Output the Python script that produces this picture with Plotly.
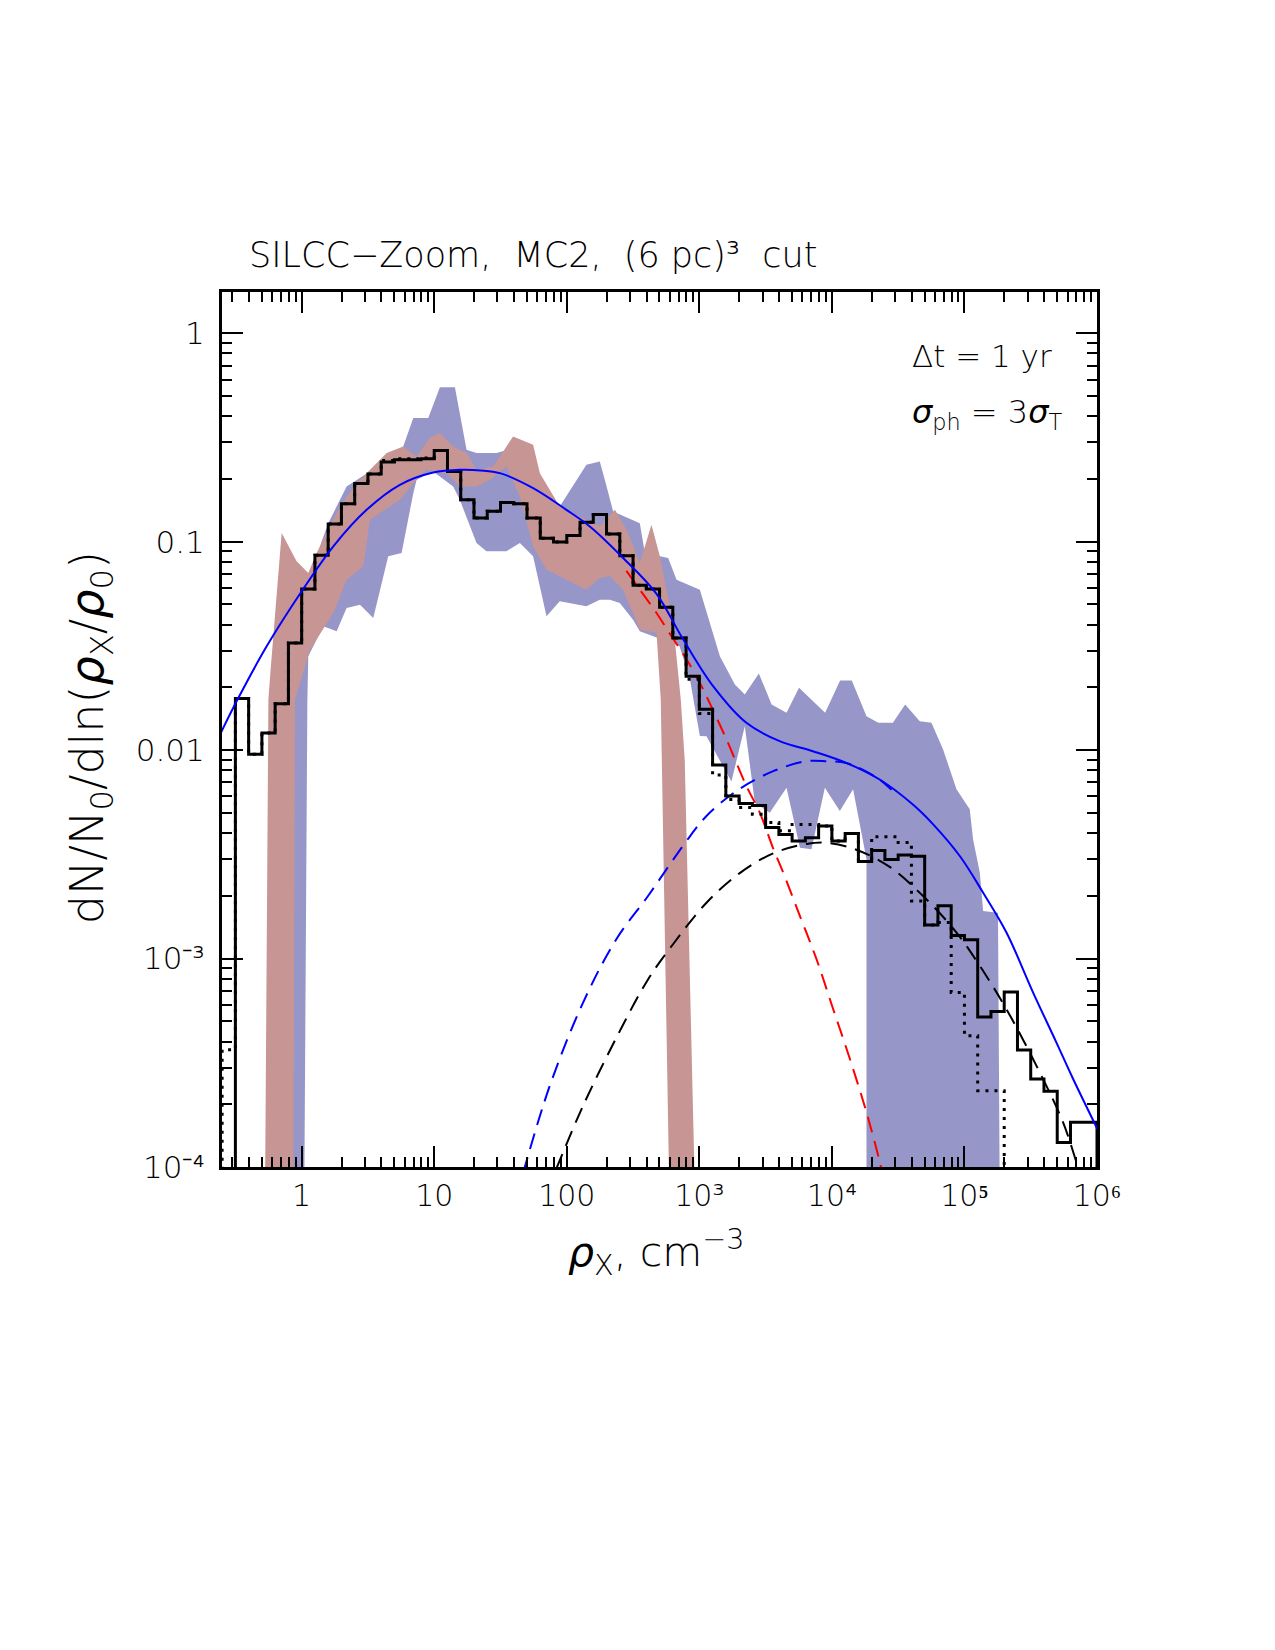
import numpy as np
import plotly.graph_objects as go

# ---------------- data (log10 density bin edges, histogram values) ----------------
hist_log_edges = [-0.5, -0.4, -0.3, -0.2, -0.1, 0.0, 0.1, 0.2, 0.3, 0.4, 0.5, 0.6, 0.7, 0.8, 0.9,
                  1.0, 1.1, 1.2, 1.3, 1.4, 1.5, 1.6, 1.7, 1.8, 1.9, 2.0, 2.1, 2.2, 2.3, 2.4,
                  2.5, 2.6, 2.7, 2.8, 2.9, 3.0, 3.1, 3.2, 3.3, 3.4, 3.5, 3.6, 3.7, 3.8, 3.9,
                  4.0, 4.1, 4.2, 4.3, 4.4, 4.5, 4.6, 4.7, 4.8, 4.9, 5.0, 5.1, 5.2, 5.3, 5.4,
                  5.5, 5.6, 5.7, 5.8, 5.9]
hist_solid = [0.0177, 0.00955, 0.0121, 0.0167, 0.0327, 0.0593, 0.086, 0.1216, 0.152, 0.190,
              0.211, 0.241, 0.247, 0.247, 0.250, 0.274, 0.217, 0.159, 0.130, 0.140,
              0.154, 0.152, 0.130, 0.104, 0.0996, 0.107, 0.124, 0.135, 0.109, 0.0857,
              0.0618, 0.0593, 0.0485, 0.0345, 0.0226, 0.0157, 0.00848, 0.00602, 0.00555, 0.00543,
              0.00425, 0.00394, 0.00366, 0.0038, 0.00433, 0.00366, 0.00398, 0.00292, 0.0033, 0.00299,
              0.00314, 0.0031, 0.00145, 0.00179, 0.00129, 0.00123, 0.000525, 0.000557, 0.000692, 0.000364,
              0.000264, 0.000231, 0.000131, 0.000164]

dot_log_edges = [-0.6, -0.5, -0.4, -0.3, -0.2, -0.1, 0.0, 0.1, 0.2, 0.3, 0.4, 0.5, 0.6, 0.7, 0.8, 0.9,
                 1.0, 1.1, 1.2, 1.3, 1.4, 1.5, 1.6, 1.7, 1.8, 1.9, 2.0, 2.1, 2.2, 2.3, 2.4,
                 2.5, 2.6, 2.7, 2.8, 2.9, 3.0, 3.1, 3.2, 3.3, 3.4, 3.5, 3.6, 3.7, 3.8, 3.9,
                 4.0, 4.1, 4.2, 4.3, 4.4, 4.5, 4.6, 4.7, 4.8, 4.9, 5.0, 5.1, 5.2]
hist_dotted = [0.000365, 0.0177, 0.00955, 0.0121, 0.0167, 0.0327, 0.0593, 0.086, 0.1216, 0.152, 0.190,
               0.211, 0.245, 0.250, 0.250, 0.252, 0.274, 0.217, 0.159, 0.130, 0.140,
               0.154, 0.152, 0.130, 0.104, 0.0996, 0.107, 0.124, 0.135, 0.109, 0.0857,
               0.0618, 0.0593, 0.0485, 0.0345, 0.0219, 0.0150, 0.00759, 0.0058, 0.0053, 0.00493,
               0.0045, 0.0041, 0.0044, 0.0044, 0.00433, 0.00366, 0.00398, 0.00292, 0.00384, 0.00384,
               0.0036, 0.00189, 0.00145, 0.00149, 0.000687, 0.000426, 0.000232]

# shaded ranges (polygon outlines, log10 x, log10 y)
blue_band_lx = [-0.07, -0.06, -0.04, 0.05, 0.15, 0.201, 0.339, 0.503, 0.641, 0.766, 0.842, 0.955,
                1.043, 1.156, 1.244, 1.319, 1.470, 1.55, 1.65, 1.75, 1.822, 1.947, 2.148, 2.249,
                2.287, 2.350, 2.551, 2.589, 2.765, 2.828, 3.004, 3.079, 3.155, 3.268, 3.343, 3.449,
                3.545, 3.658, 3.752, 3.949, 4.062, 4.150, 4.261, 4.350, 4.460, 4.553, 4.663, 4.751,
                4.839, 4.940, 5.040, 5.065, 5.116, 5.141, 5.253, 5.266,
                4.261, 4.261, 4.160, 4.060, 3.947, 3.846, 3.759, 3.658, 3.531, 3.419, 3.343, 3.242,
                3.054, 3.004, 2.929, 2.85, 2.551, 2.500, 2.400, 2.325, 2.249, 2.148, 1.947, 1.847,
                1.746, 1.646, 1.545, 1.394, 1.319, 1.193, 1.143, 0.992, 0.867, 0.842, 0.754, 0.653,
                0.540, 0.440, 0.339, 0.264, 0.163, 0.050, 0.043, 0.020]
blue_band_ly = [-4.1, -1.757, -1.5, -1.2, -1.0, -0.911, -0.735, -0.668, -0.600, -0.543, -0.407, -0.407,
                -0.259, -0.259, -0.559, -0.575, -0.575, -0.56, -0.52, -0.58, -0.735, -0.831, -0.631, -0.615,
                -0.703, -0.855, -0.911, -1.054, -1.078, -1.182, -1.230, -1.390, -1.550, -1.685, -1.733, -1.632,
                -1.781, -1.821, -1.701, -1.821, -1.666, -1.666, -1.837, -1.869, -1.869, -1.781, -1.861, -1.869,
                -1.997, -2.188, -2.284, -2.428, -2.588, -2.772, -2.780, -4.1,
                -4.1, -2.524, -2.188, -2.292, -2.180, -2.476, -2.468, -2.180, -2.300, -2.252, -1.885, -2.151,
                -1.933, -1.932, -1.660, -1.50, -1.430, -1.374, -1.294, -1.278, -1.278, -1.310, -1.286, -1.358,
                -1.070, -1.006, -1.046, -1.046, -1.006, -0.799, -0.735, -0.663, -0.703, -0.767, -1.054, -1.070,
                -1.366, -1.302, -1.318, -1.430, -1.406, -1.550, -1.757, -4.1]

red_band_lx = [-0.276, -0.251, -0.236, -0.151, -0.038, 0.050, 0.113, 0.188, 0.289, 0.415, 0.641, 0.766,
               0.867, 0.967, 1.043, 1.143, 1.244, 1.319, 1.445, 1.545, 1.595, 1.746, 1.797, 1.947,
               2.148, 2.249, 2.363, 2.451, 2.551, 2.639, 2.702, 2.777, 2.815, 2.86, 2.89, 2.966,
               2.773, 2.714, 2.709, 2.677, 2.551, 2.425, 2.325, 2.249, 2.148, 1.947, 1.847, 1.746,
               1.646, 1.545, 1.420, 1.319, 1.193, 1.093, 0.942, 0.842, 0.741, 0.515, 0.465, 0.339,
               0.239, 0.063, -0.050, -0.063]
red_band_ly = [-4.1, -1.757, -1.629, -0.958, -1.094, -1.150, -1.054, -0.958, -0.831, -0.719, -0.575, -0.543,
               -0.591, -0.503, -0.479, -0.543, -0.575, -0.655, -0.639, -0.543, -0.495, -0.535, -0.671, -0.831,
               -0.895, -0.927, -0.847, -0.943, -1.102, -0.919, -1.070, -1.310, -1.470, -1.757, -2.05, -4.1,
               -4.1, -2.044, -1.757, -1.437, -1.422, -1.230, -1.166, -1.174, -1.230, -1.166, -1.134, -1.022,
               -0.783, -0.639, -0.703, -0.735, -0.735, -0.671, -0.655, -0.719, -0.799, -0.895, -1.118, -1.182,
               -1.342, -1.518, -1.757, -4.1]

# model curves (log10 x, log10 y)
fit_total_lx = [-0.62, -0.477, -0.264, 0.0, 0.239, 0.490, 0.741, 0.992, 1.2, 1.35, 1.495, 1.746, 1.997,
                2.174, 2.425, 2.677, 2.87, 3.104, 3.355, 3.606, 3.857, 4.108, 4.36, 4.611, 4.764,
                4.965, 5.141, 5.317, 5.518, 5.694, 5.820, 6.02]
fit_total_ly = [-1.93, -1.749, -1.502, -1.238, -1.022, -0.847, -0.727, -0.668, -0.655, -0.658, -0.671,
                -0.743, -0.847, -0.927, -1.078, -1.250, -1.46, -1.693, -1.869, -1.957, -2.005, -2.061,
                -2.141, -2.261, -2.356, -2.508, -2.684, -2.875, -3.163, -3.403, -3.578, -3.84]

fit_blue_dash_lx = [1.67, 1.872, 2.123, 2.374, 2.613, 2.778, 2.903, 3.054, 3.280, 3.557, 3.809, 3.959,
                    4.108, 4.22, 4.36, 4.45]
fit_blue_dash_ly = [-4.03, -3.610, -3.211, -2.907, -2.700, -2.548, -2.436, -2.316, -2.196, -2.101, -2.053,
                    -2.053, -2.062, -2.09, -2.141, -2.19]

fit_black_dash_lx = [1.92, 2.123, 2.374, 2.613, 2.803, 3.054, 3.305, 3.557, 3.809, 3.959, 4.185, 4.436,
                     4.688, 4.940, 5.116, 5.317, 5.568, 5.744, 5.845, 5.87]
fit_black_dash_ly = [-4.01, -3.706, -3.38, -3.10, -2.93, -2.732, -2.590, -2.495, -2.450, -2.444, -2.478,
                     -2.560, -2.700, -2.875, -3.035, -3.243, -3.546, -3.786, -3.978, -4.03]

fit_red_dash_lx = [2.45, 2.551, 2.677, 2.79, 2.90, 3.004, 3.092, 3.205, 3.355, 3.456, 3.556, 3.633,
                   3.759, 3.884, 4.010, 4.136, 4.261, 4.362, 4.38]
fit_red_dash_ly = [-1.14, -1.230, -1.342, -1.454, -1.56, -1.678, -1.793, -1.949, -2.172, -2.300, -2.47,
                   -2.588, -2.796, -3.003, -3.243, -3.482, -3.738, -3.978, -4.03]

x_tick_vals = [1, 10, 100, 1e3, 1e4, 1e5, 1e6]
x_tick_text = ["1", "10", "100", "10³", "10⁴", "10⁵", "10⁶"]
y_tick_vals = [1e-4, 1e-3, 1e-2, 1e-1, 1]
y_tick_text = ["10⁻⁴", "10⁻³", "0.01", "0.1", "1"]

# ---------------- helpers ----------------
def p10(a):
    return list(10.0 ** np.array(a, dtype=float))


def step_xy(log_edges, vals, width=0.1):
    xs = [10 ** log_edges[0]] + p10(log_edges) + [10 ** (log_edges[-1] + width)] * 2
    ys = [1e-6] + list(vals) + [vals[-1], 1e-6]
    return xs, ys


FONT = "DejaVu Sans"
WEIGHT = 200
NB = "\u00a0"
fig = go.Figure()

fig.add_trace(go.Scatter(x=p10(blue_band_lx), y=p10(blue_band_ly), fill="toself",
                         fillcolor="#9696C8", line=dict(width=0), mode="lines",
                         hoverinfo="skip", showlegend=False))
fig.add_trace(go.Scatter(x=p10(red_band_lx), y=p10(red_band_ly), fill="toself",
                         fillcolor="#C89595", line=dict(width=0), mode="lines",
                         hoverinfo="skip", showlegend=False))

fig.add_trace(go.Scatter(x=p10(fit_black_dash_lx), y=p10(fit_black_dash_ly), mode="lines",
                         line=dict(color="black", width=2, dash="16px,9px", shape="spline"),
                         showlegend=False))
fig.add_trace(go.Scatter(x=p10(fit_blue_dash_lx), y=p10(fit_blue_dash_ly), mode="lines",
                         line=dict(color="#0000FF", width=2, dash="16px,9px", shape="spline"),
                         showlegend=False))
fig.add_trace(go.Scatter(x=p10(fit_red_dash_lx), y=p10(fit_red_dash_ly), mode="lines",
                         line=dict(color="#FF0000", width=2, dash="16px,9px", shape="spline"),
                         showlegend=False))

dx, dy = step_xy(dot_log_edges, hist_dotted)
fig.add_trace(go.Scatter(x=dx, y=dy, mode="lines",
                         line=dict(color="black", width=3, dash="3px,6px", shape="hv"),
                         showlegend=False))
sx, sy = step_xy(hist_log_edges, hist_solid)
fig.add_trace(go.Scatter(x=sx, y=sy, mode="lines",
                         line=dict(color="black", width=3, shape="hv"),
                         showlegend=False))

fig.add_trace(go.Scatter(x=p10(fit_total_lx), y=p10(fit_total_ly), mode="lines",
                         line=dict(color="#0000FF", width=2, shape="spline"),
                         showlegend=False))

axis_common = dict(
    type="log", showgrid=False, zeroline=False, showline=True, linecolor="black", linewidth=3,
    mirror="allticks", ticks="inside", ticklen=21, tickwidth=2, tickcolor="black",
    minor=dict(ticks="inside", ticklen=10, tickwidth=2, tickcolor="black", dtick="D1", showgrid=False),
)

fig.update_xaxes(range=[-0.601, 6.0], tickvals=x_tick_vals, ticktext=x_tick_text,
                 tickfont=dict(family=FONT, size=30, color="black", weight=WEIGHT), **axis_common)
fig.update_yaxes(range=[-4.0, 0.198], tickvals=y_tick_vals, ticktext=y_tick_text,
                 tickfont=dict(family=FONT, size=31, color="black", weight=WEIGHT),
                 ticklabelstandoff=8, **axis_common)

title_text = f"SILCC−Zoom,{NB} MC2,{NB} (6{NB}pc)³{NB} cut"
annos = [
    dict(text=title_text, x=0.029, y=1.0423, xanchor="left", yanchor="middle",
         font=dict(size=35)),
    dict(text="Δt = 1 yr", x=0.951, y=0.927, xanchor="right", yanchor="middle", font=dict(size=31)),
    dict(text="<i>σ</i><sub>ph</sub> = 3<i>σ</i><sub>T</sub>", x=0.962, y=0.861, xanchor="right",
         yanchor="middle", font=dict(size=32)),
    dict(text="<i>ρ</i><sub>X</sub>, cm<sup>−3</sup>", x=0.497, y=-0.097, xanchor="center",
         yanchor="middle", font=dict(size=41)),
    dict(text="dN/N<sub>0</sub>/dln(<i>ρ</i><sub>X</sub>/<i>ρ</i><sub>0</sub>)", x=-0.150, y=0.491,
         xanchor="center", yanchor="middle", textangle=-90, font=dict(size=46)),
]
for a in annos:
    a.update(xref="paper", yref="paper", showarrow=False)
    a["font"].update(family=FONT, color="black", weight=WEIGHT)
    fig.add_annotation(**a)

fig.update_layout(width=1275, height=1650, autosize=False,
                  margin=dict(l=222, r=178, t=292, b=483),
                  paper_bgcolor="white", plot_bgcolor="white", showlegend=False)

fig.write_html("out.html")
